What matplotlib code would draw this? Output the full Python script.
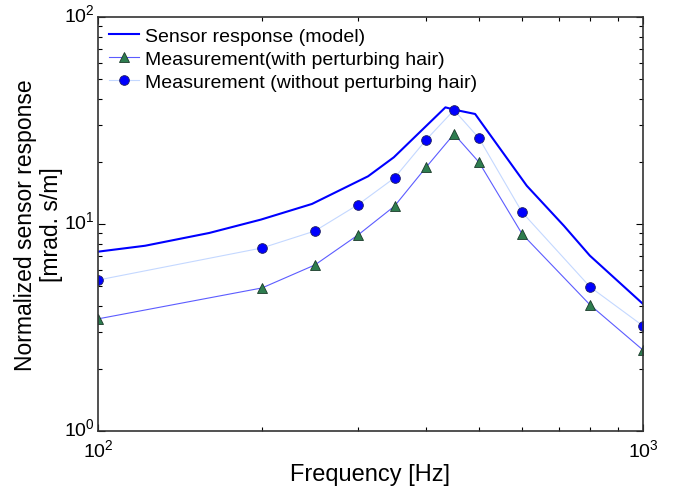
import numpy as np
import matplotlib.pyplot as plt
import matplotlib.transforms as mtransforms
from matplotlib.ticker import LogLocator, NullFormatter

plt.rcParams['font.family'] = ['Liberation Sans', 'DejaVu Sans']
plt.rcParams['mathtext.fontset'] = 'custom'
plt.rcParams['mathtext.rm'] = 'Liberation Sans'

# model curve
f_model = [100, 122, 160, 199, 247, 313, 349, 434, 452, 492, 612, 716, 799, 1000]
y_model = [7.35, 7.85, 9.05, 10.5, 12.5, 17.0, 21.0, 36.6, 35.6, 34.0, 15.3, 9.8, 7.03, 4.11]

# measurements
f_meas = [100, 200, 250, 300, 350, 400, 450, 500, 600, 800, 1000]
y_hair = [3.48, 4.91, 6.34, 8.85, 12.2, 18.8, 27.2, 19.9, 8.95, 4.06, 2.46]
y_nohair = [5.36, 7.66, 9.25, 12.4, 16.7, 25.5, 35.5, 26.0, 11.4, 4.96, 3.22]

fig = plt.figure(figsize=(6.83, 4.89), dpi=100)
ax = fig.add_axes([0.1435, 0.1166, 0.7979, 0.8466])

ax.plot(f_model, y_model, color='#0000ff', lw=1.5, label='Sensor response (model)')
ax.plot(f_meas, y_hair, color='#5c5cff', lw=0.8, marker='^', ms=7,
        mfc='#2e7d4f', mec='#1a3a2a', mew=0.6,
        label='Measurement(with perturbing hair)')
ax.plot(f_meas, y_nohair, color='#c4d8ff', lw=0.8, marker='o', ms=7,
        mfc='#0000ff', mec='#202060', mew=0.6,
        label='Measurement (without perturbing hair)')

ax.set_xscale('log')
ax.set_yscale('log')
ax.set_xlim(100, 1000)
ax.set_ylim(1, 100)

ax.yaxis.set_major_locator(LogLocator(base=10, numticks=5))
ax.yaxis.set_minor_locator(LogLocator(base=10, subs=np.arange(2, 10), numticks=10))
ax.yaxis.set_minor_formatter(NullFormatter())
ax.xaxis.set_minor_formatter(NullFormatter())

ax.tick_params(which='both', direction='in', top=True, right=True, labelsize=14)
ax.tick_params(which='major', length=5, width=0.8)
ax.tick_params(which='minor', length=3, width=0.8)
ax.tick_params(axis='x', pad=5)
ax.tick_params(axis='y', pad=2)
for s in ax.spines.values():
    s.set_color('#333333')
    s.set_linewidth(1.2)

# y tick labels sit a little above their ticks in the original
shift = mtransforms.ScaledTranslation(0, 5 / 100, fig.dpi_scale_trans)
for lbl in ax.get_yticklabels():
    lbl.set_transform(lbl.get_transform() + shift)

ax.set_xlabel('Frequency [Hz]', fontsize=17, labelpad=2)
ax.set_ylabel('Normalized sensor response\n[mrad. s/m]', fontsize=16.5,
              labelpad=1, linespacing=1.15)

ax.legend(loc='upper left', frameon=False, fontsize=14, handlelength=1.55,
          handletextpad=0.3, borderaxespad=0.1, labelspacing=0.27,
          borderpad=0.45)

fig.savefig('out.png', dpi=100)
